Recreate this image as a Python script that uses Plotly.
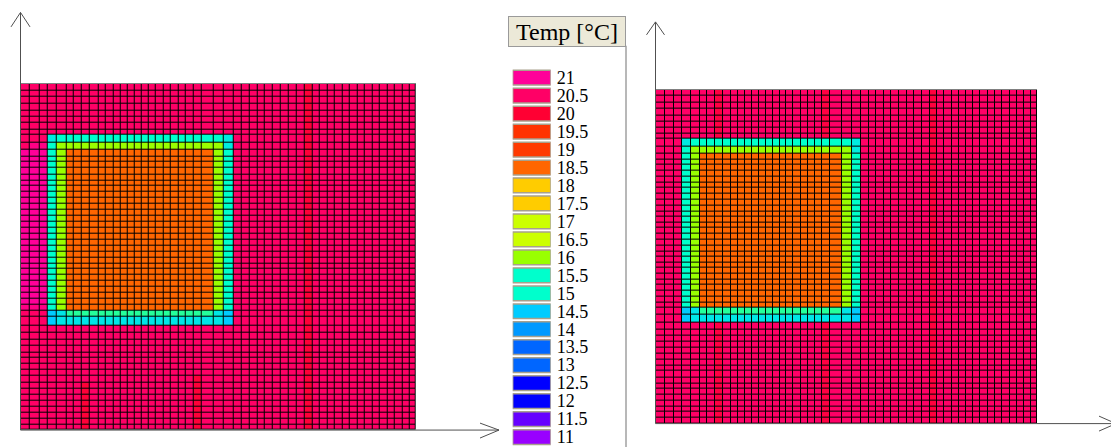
import numpy as np
import plotly.graph_objects as go

W, H = 1111, 448

# ---------------- legend (temperature classes) ----------------
LEVEL_LABELS = ["21", "20.5", "20", "19.5", "19", "18.5", "18", "17.5", "17", "16.5",
                "16", "15.5", "15", "14.5", "14", "13.5", "13", "12.5", "12", "11.5", "11"]
LEVEL_VALUES = [21, 20.5, 20, 19.5, 19, 18.5, 18, 17.5, 17, 16.5,
                16, 15.5, 15, 14.5, 14, 13.5, 13, 12.5, 12, 11.5, 11]
LEVEL_COLORS = ["#FF0099", "#FF0066", "#FF0033", "#FF3300", "#FF3A00", "#FF6600", "#FFCC00",
                "#FFCC00", "#CCFF00", "#CCFF00", "#99FF00", "#00FFCC", "#00FFCC", "#00CCFF",
                "#0099FF", "#0066FF", "#0066FF", "#0000FF", "#0000FF", "#6600FF", "#9900FF"]

# ---------------- mesh (cell edges, in model units) ----------------
COL_EDGES = [0, 9.3, 18.6, 27, 36, 46, 53.3, 61, 69.3, 77.6, 85.3, 92.6, 100, 107, 114.3,
             121.3, 128.3, 135.3, 142.6, 150, 157.6, 165.3, 172.6, 181, 192.6, 203.3, 212.6,
             221, 228.6, 236.6, 244.3, 252, 260, 268, 276, 284.3, 292, 299.3, 306.6, 314.3,
             321.6, 329.3, 336.6, 344.3, 352, 359.3, 367, 374.3, 382, 389.3, 395.3]
ROW_EDGES = [0, 6.7, 13.4, 20, 26.7, 33.4, 39.4, 46, 51, 59.7, 66.3, 73, 78.7, 84.7, 91, 97,
             102.7, 108.7, 114.7, 121, 127, 133, 138.7, 144.3, 150.3, 156.3, 162.3, 168.7,
             174.3, 180.3, 186, 192, 198, 203.7, 209.7, 216, 222, 227.7, 234.3, 243, 250.5,
             257, 263, 269.7, 275.7, 281.7, 287.7, 293.7, 300.3, 306.3, 312.3, 318.3, 324.3,
             330.3, 336.3, 342.3, 348]

# ---------------- temperature field, read region by region ----------------
BACKGROUND_TEMP = 20.5
# (first row, last row, first col, last col, temperature)
SQUARE_PATCHES = [
    (8, 38, 3, 25, 15.5),
    (9, 37, 4, 24, 16.0),
    (10, 36, 5, 23, 18.5),
    (37, 37, 4, 24, 15.62),
    (38, 38, 3, 25, 14.75),
    (37, 38, 3, 3, 14.5),
    (37, 37, 4, 4, 14.75),
    (37, 37, 24, 24, 14.75),
    (37, 38, 25, 25, 14.5),
    (8, 8, 3, 3, 14.8),
    (8, 9, 25, 25, 14.8),
]
LEFT_PATCHES = [
    (10, 35, 0, 2, 21.0),
    (9, 9, 1, 2, 20.8),
    (36, 36, 0, 2, 20.8),
    (48, 55, 7, 7, 20.05),
    (47, 55, 22, 22, 20.05),
    (0, 55, 35, 35, 20.05),
]
RIGHT_PATCHES = [
    (0, 7, 7, 7, 20.15),
    (39, 55, 7, 7, 20.15),
    (0, 7, 22, 22, 20.15),
    (39, 55, 22, 22, 20.15),
    (0, 55, 35, 35, 20.1),
]


def build_field(patches):
    z = np.full((len(ROW_EDGES) - 1, len(COL_EDGES) - 1), BACKGROUND_TEMP)
    for r0, r1, c0, c1, v in SQUARE_PATCHES + patches:
        z[r0:r1 + 1, c0:c1 + 1] = v
    return z


vmin, vmax = min(LEVEL_VALUES), max(LEVEL_VALUES)
pairs = sorted(zip(LEVEL_VALUES, LEVEL_COLORS))
COLORSCALE = [[(v - vmin) / (vmax - vmin), c] for v, c in pairs]

# panel geometry (pixels)
LEFT_BOX = (20.7, 416, 83, 431)     # x0, x1, ytop, ybottom
RIGHT_BOX = (656, 1037, 89, 424)
LEG_BOX = (512.7, 550.7, 68, 447)


def xdom(b):
    return [b[0] / W, b[1] / W]


def ydom(b):
    return [1 - b[3] / H, 1 - b[2] / H]


fig = go.Figure()

for ax, patches in (("", LEFT_PATCHES), ("2", RIGHT_PATCHES)):
    xa, ya = "x" + ax, "y" + ax
    fig.add_trace(go.Heatmap(x=COL_EDGES, y=ROW_EDGES,
                             z=np.zeros((len(ROW_EDGES) - 1, len(COL_EDGES) - 1)),
                             colorscale=[[0, "#000000"], [1, "#000000"]], showscale=False,
                             hoverinfo="skip", xaxis=xa, yaxis=ya))
    fig.add_trace(go.Heatmap(x=COL_EDGES, y=ROW_EDGES, z=build_field(patches),
                             colorscale=COLORSCALE, zmin=vmin, zmax=vmax, xgap=1, ygap=1,
                             showscale=False, xaxis=xa, yaxis=ya))

fig.add_trace(go.Bar(x=[1] * len(LEVEL_LABELS), y=LEVEL_LABELS, orientation="h",
                     marker=dict(color=LEVEL_COLORS, line=dict(color="#A8A08C", width=1.5)),
                     xaxis="x3", yaxis="y3", hoverinfo="skip"))

hidden = dict(showgrid=False, zeroline=False, showticklabels=False, ticks="", fixedrange=True)

fig.update_layout(
    width=W, height=H, margin=dict(l=0, r=0, t=0, b=0),
    paper_bgcolor="white", plot_bgcolor="white", showlegend=False, bargap=0.18,
    xaxis=dict(domain=xdom(LEFT_BOX), range=[COL_EDGES[0], COL_EDGES[-1]], side="top",
               showline=True, linecolor="#808080", linewidth=1, **hidden),
    yaxis=dict(domain=ydom(LEFT_BOX), range=[ROW_EDGES[-1], ROW_EDGES[0]], **hidden),
    xaxis2=dict(domain=xdom(RIGHT_BOX), range=[COL_EDGES[0], COL_EDGES[-1]], side="top",
                showline=True, linecolor="#808080", linewidth=1, anchor="y2", **hidden),
    yaxis2=dict(domain=ydom(RIGHT_BOX), range=[ROW_EDGES[-1], ROW_EDGES[0]], anchor="x2",
                **hidden),
    xaxis3=dict(domain=xdom(LEG_BOX), range=[0, 1], anchor="y3", visible=False,
                fixedrange=True),
    yaxis3=dict(domain=ydom(LEG_BOX), type="category", autorange="reversed", side="right",
                anchor="x3", showgrid=False, zeroline=False, ticks="", showline=False,
                tickmode="array", tickvals=LEVEL_LABELS, ticktext=LEVEL_LABELS,
                ticklabelstandoff=5, fixedrange=True,
                tickfont=dict(family="Liberation Serif", size=18, color="black")),
)


def P(x, y):
    return x / W, 1 - y / H


def seg(x0, y0, x1, y1, color="#505050", width=1):
    a, b = P(x0, y0)
    c, d = P(x1, y1)
    return dict(type="line", xref="paper", yref="paper", x0=a, y0=b, x1=c, y1=d,
                line=dict(color=color, width=width))


shapes = []
# left panel axes arrows
lx, ly = 20.5, 431
shapes += [seg(lx, ly, lx, 11.5), seg(lx, 11.5, 11, 26), seg(lx, 11.5, 30, 26)]
shapes += [seg(lx, ly, 499, ly), seg(499, ly, 480, 424), seg(499, ly, 480, 439)]
# right panel axes arrows
rx, ry = 655.5, 424.5
shapes += [seg(rx, ry, rx, 21), seg(rx, 21, 646.5, 34), seg(rx, 21, 664.5, 34)]
shapes += [seg(rx, ry, 1116, ry), seg(1116, ry, 1099, 417), seg(1116, ry, 1099, 432)]
# legend panel separator
shapes += [seg(626, 45, 626, 448, color="#A0A0A0", width=1.5)]
fig.update_layout(shapes=shapes)

bx, by = P(566.5, 30.5)
fig.add_annotation(x=bx, y=by, xref="paper", yref="paper", xanchor="center", yanchor="middle",
                   text="Temp [°C]", showarrow=False,
                   font=dict(family="Liberation Serif", size=24, color="black"),
                   bgcolor="#ECE9D8", bordercolor="#9A9A9A", borderwidth=1, borderpad=0,
                   width=116, height=29)

fig.write_html("out.html", config={"displayModeBar": False, "staticPlot": True},
               post_script="document.body.style.margin='0px';"
                           "document.body.style.overflow='hidden';")
